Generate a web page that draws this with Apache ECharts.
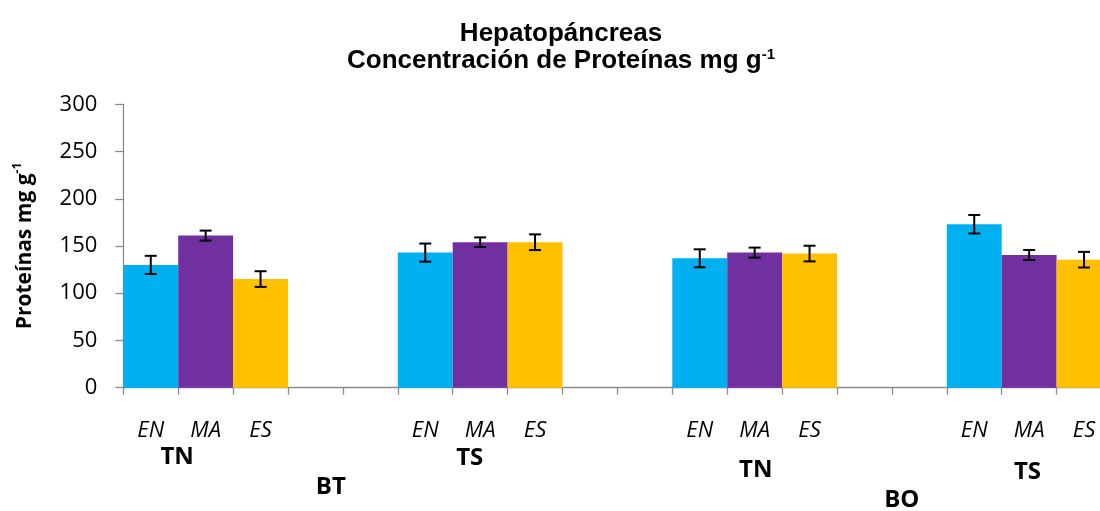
<!DOCTYPE html>
<html>
<head>
<meta charset="utf-8">
<script src="https://cdn.jsdelivr.net/npm/echarts@6/dist/echarts.min.js"></script>
<style>
  html, body { margin: 0; padding: 0; background: #fff; }
  #chart { width: 1100px; height: 511px; }
</style>
</head>
<body>
<div id="chart"></div>
<script>
// Protein concentration in hepatopancreas, mean ± error, per site / tide group
const treatments = ['EN', 'MA', 'ES'];
const groupLabels = ['TN', 'TS', 'TN', 'TS'];
const siteLabels = ['BT', 'BO'];

const meanEN = [130, 143, 137, 173];
const meanMA = [161, 154, 143, 140.5];
const meanES = [115, 154, 142, 135.5];

const errEN = [9.6, 9.6, 9.5, 9.8];
const errMA = [5.3, 5.1, 5.3, 5.3];
const errES = [8.3, 8.3, 8.3, 8.3];

const yTicks = [0, 50, 100, 150, 200, 250, 300];

const colors = ['#00B0F0', '#7030A0', '#FFC000'];
const axisColor = '#8C8C8C';

// slot layout: three bars per group, two empty slots between groups
const SLOTS_PER_GROUP = 5;
const nSlots = groupLabels.length * SLOTS_PER_GROUP - 2;
const slotNames = [];
for (let s = 0; s < nSlots; s++) {
  const t = s % SLOTS_PER_GROUP;
  slotNames.push(t < treatments.length ? treatments[t] : '');
}

const means = [meanEN, meanMA, meanES];
const errs = [errEN, errMA, errES];

function barData(ti) {
  const arr = new Array(nSlots).fill(null);
  means[ti].forEach((v, g) => { arr[g * SLOTS_PER_GROUP + ti] = v; });
  return arr;
}
function errData(ti) {
  return means[ti].map((v, g) => [g * SLOTS_PER_GROUP + ti, v, errs[ti][g]]);
}

const chart = echarts.init(document.getElementById('chart'), null, { renderer: 'canvas' });

const barSeries = treatments.map((name, ti) => ({
  name,
  type: 'bar',
  data: barData(ti),
  barWidth: '100%',
  barGap: '-100%',
  barCategoryGap: 0,
  itemStyle: { color: colors[ti] },
  silent: true,
  z: 2
}));

const errSeries = treatments.map((name, ti) => ({
  name: name + ' error',
  type: 'custom',
  data: errData(ti),
  z: 5,
  silent: true,
  renderItem(params, api) {
    const x = api.value(0), v = api.value(1), e = api.value(2);
    const hi = api.coord([x, v + e]);
    const lo = api.coord([x, v - e]);
    const cap = 6;
    const st = { stroke: '#000', lineWidth: 2 };
    return {
      type: 'group',
      children: [
        { type: 'line', shape: { x1: hi[0], y1: hi[1], x2: lo[0], y2: lo[1] }, style: st },
        { type: 'line', shape: { x1: hi[0] - cap, y1: hi[1], x2: hi[0] + cap, y2: hi[1] }, style: st },
        { type: 'line', shape: { x1: lo[0] - cap, y1: lo[1], x2: lo[0] + cap, y2: lo[1] }, style: st }
      ]
    };
  }
}));

chart.setOption({
  animation: false,
  backgroundColor: '#fff',
  grid: {
    left: 123.3, right: -11.5, top: 104.3, bottom: 123.3,
    containLabel: false,
    outerBoundsMode: 'none'
  },
  xAxis: {
    type: 'category',
    data: slotNames,
    boundaryGap: true,
    axisLine: { lineStyle: { color: axisColor, width: 1.3 } },
    axisTick: { show: true, interval: 0, length: 7, lineStyle: { color: axisColor, width: 1.3 } },
    axisLabel: {
      interval: 0, margin: 32, color: '#000',
      fontFamily: 'Open Sans', fontStyle: 'italic', fontSize: 22
    },
    splitLine: { show: false }
  },
  yAxis: {
    type: 'value',
    min: yTicks[0], max: yTicks[yTicks.length - 1], interval: 50,
    axisLine: { show: true, lineStyle: { color: axisColor, width: 1.3 } },
    axisTick: { show: true, length: 8, lineStyle: { color: axisColor, width: 1.3 } },
    axisLabel: { margin: 26, color: '#000', fontFamily: 'Open Sans', fontSize: 22 },
    splitLine: { show: false }
  },
  series: [...barSeries, ...errSeries]
});

// category-level labels, anchored on the MA slot of each group (offsets in slot widths)
const groupOffset = [-0.52, -0.19, 0.02, -0.03];
const groupY = [457, 458, 470, 472];
const siteAnchor = [4, 14];          // slot near which each site label sits
const siteOffset = [-0.72, -0.32];
const siteY = [487, 500];

const px = i => chart.convertToPixel({ xAxisIndex: 0 }, i);
const slotW = px(1) - px(0);
const plotMidY = (chart.convertToPixel({ yAxisIndex: 0 }, yTicks[0]) +
                  chart.convertToPixel({ yAxisIndex: 0 }, yTicks[yTicks.length - 1])) / 2;

const boldLabel = (text, x, y) => ({
  type: 'text', x, y, silent: true,
  style: {
    text, fill: '#000', font: 'bold 24px "Open Sans"',
    textAlign: 'center', textVerticalAlign: 'middle'
  }
});

const graphics = [];
groupLabels.forEach((t, g) => {
  graphics.push(boldLabel(t, px(g * SLOTS_PER_GROUP + 1) + groupOffset[g] * slotW, groupY[g]));
});
siteLabels.forEach((t, k) => {
  graphics.push(boldLabel(t, px(siteAnchor[k]) + siteOffset[k] * slotW, siteY[k]));
});

// chart title
graphics.push({
  type: 'text', x: 561, y: 20, silent: true,
  style: {
    text: '{m|Hepatopáncreas}\n{m|Concentración de Proteínas mg g}{s|-1}',
    textAlign: 'center', textVerticalAlign: 'top',
    rich: {
      m: { fontFamily: 'Liberation Sans', fontWeight: 'bold', fontSize: 26, lineHeight: 27, fill: '#000', verticalAlign: 'bottom' },
      s: { fontFamily: 'Liberation Sans', fontWeight: 'bold', fontSize: 15, lineHeight: 27, fill: '#000', verticalAlign: 'top' }
    }
  }
});

// y-axis title
graphics.push({
  type: 'text', x: 24, y: plotMidY, rotation: Math.PI / 2, silent: true,
  style: {
    text: '{m|Proteínas mg g}{s|-1}',
    textAlign: 'center', textVerticalAlign: 'middle',
    rich: {
      m: { fontFamily: 'Open Sans', fontWeight: 'bold', fontSize: 21, lineHeight: 24, fill: '#000', verticalAlign: 'bottom' },
      s: { fontFamily: 'Open Sans', fontWeight: 'bold', fontSize: 12, lineHeight: 24, fill: '#000', verticalAlign: 'top' }
    }
  }
});

chart.setOption({ graphic: graphics });
</script>
</body>
</html>
